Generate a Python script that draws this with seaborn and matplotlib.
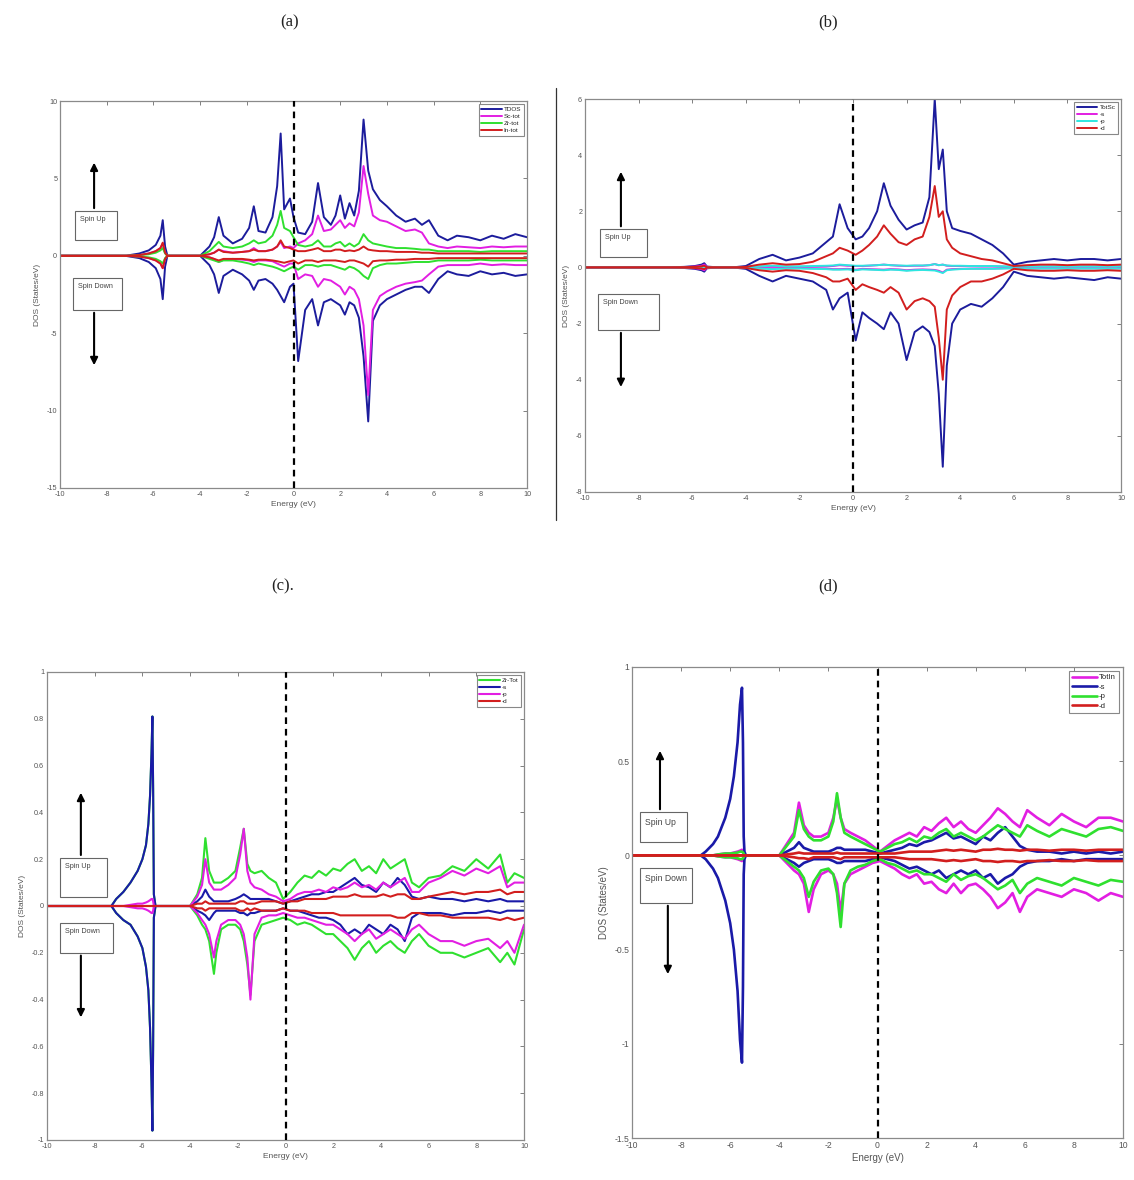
import matplotlib
matplotlib.use('Agg')
import matplotlib.pyplot as plt
import seaborn as sns
from matplotlib.patches import Rectangle
from matplotlib.lines import Line2D

sns.set_style('white')
plt.rcParams['font.family'] = ['Liberation Sans', 'DejaVu Sans']

# ---------------- panel (a) ----------------
a_E = [-10, -7.2, -6.6, -6.2, -5.9, -5.7, -5.6, -5.5, -5.4, -4.0, -3.6, -3.4, -3.2, -3.0, -2.6, -2.2, -1.9, -1.7,
       -1.5, -1.2, -0.9, -0.7, -0.55, -0.4, -0.15, 0.0, 0.2, 0.5, 0.8, 1.05, 1.3, 1.6, 1.8, 2.0, 2.2, 2.4, 2.6, 2.8,
       3.0, 3.2, 3.4, 3.7, 4.0, 4.4, 4.8, 5.2, 5.5, 5.8, 6.2, 6.6, 7.0, 7.5, 8.0, 8.5, 9.0, 9.5, 10]
a_tdos_up = [0, 0, 0.15, 0.35, 0.7, 1.3, 2.3, 0.6, 0, 0, 0.6, 1.2, 2.5, 1.3, 0.8, 1.1, 1.8, 3.2, 1.6, 1.5, 2.5, 4.5,
             7.9, 3.0, 3.7, 2.5, 1.5, 1.4, 2.2, 4.7, 2.5, 2.0, 2.6, 3.9, 2.4, 3.4, 2.6, 4.2, 8.8, 5.5, 4.3, 3.6, 3.2,
             2.6, 2.2, 2.4, 2.0, 2.3, 1.3, 1.0, 1.3, 1.2, 1.0, 1.3, 1.1, 1.4, 1.2]
a_sc_up = [0, 0, 0.05, 0.15, 0.3, 0.5, 0.8, 0.2, 0,
           0, 0.1, 0.2, 0.4, 0.3, 0.2, 0.25, 0.3, 0.5, 0.3, 0.3, 0.4, 0.6, 0.9, 0.5, 0.6,
           0.5, 0.8, 1.0, 1.4, 2.6, 1.6, 1.7, 2.0, 2.3, 1.8, 2.1, 1.9, 2.8,
           5.8, 4.0, 2.6, 2.3, 2.2, 1.9, 1.6, 1.7, 1.5, 0.8, 0.6, 0.5, 0.6, 0.55, 0.5, 0.6, 0.55, 0.6, 0.6]
a_zr_up = [0, 0, 0.05, 0.1, 0.2, 0.35, 0.5, 0.15, 0,
           0, 0.3, 0.6, 0.9, 0.6, 0.5, 0.6, 0.8, 1.0, 0.8, 0.9, 1.3, 2.0, 2.9, 1.8, 1.6,
           1.2, 0.7, 0.6, 0.7, 1.0, 0.6, 0.6, 0.8, 0.9, 0.6, 0.8, 0.6, 0.8,
           1.4, 1.0, 0.8, 0.7, 0.6, 0.5, 0.5, 0.45, 0.4, 0.4, 0.3, 0.3, 0.3, 0.3, 0.25, 0.3, 0.3, 0.3, 0.3]
a_in_up = [0, 0, 0.05, 0.15, 0.3, 0.5, 0.85, 0.2, 0,
           0, 0.1, 0.2, 0.4, 0.25, 0.2, 0.25, 0.3, 0.4, 0.3, 0.3, 0.4, 0.6, 1.0, 0.6, 0.5,
           0.4, 0.3, 0.3, 0.4, 0.5, 0.3, 0.3, 0.4, 0.4, 0.3, 0.35, 0.3, 0.4,
           0.6, 0.4, 0.35, 0.3, 0.3, 0.25, 0.25, 0.25, 0.2, 0.2, 0.15, 0.15, 0.15, 0.15, 0.15, 0.15, 0.15, 0.15, 0.15]
a_tdos_dn = [0, 0, -0.15, -0.4, -0.8, -1.5, -2.8, -0.7, 0,
             0, -0.6, -1.2, -2.4, -1.3, -0.9, -1.2, -1.6, -2.2, -1.6, -1.5, -1.8, -2.2, -2.6, -3.0, -2.0,
             -1.8, -6.8, -3.5, -2.8, -4.5, -3.0, -2.8, -3.0, -3.2, -3.8, -3.0, -3.2, -4.0,
             -6.5, -10.7, -4.2, -3.2, -2.8, -2.5, -2.2, -2.0, -2.0, -2.4, -1.5, -1.0, -1.2, -1.3, -1.0, -1.2, -1.1, -1.3, -1.2]
a_sc_dn = [0, 0, -0.05, -0.15, -0.3, -0.5, -0.8, -0.2, 0,
           0, -0.1, -0.2, -0.4, -0.25, -0.2, -0.25, -0.3, -0.4, -0.3, -0.3, -0.35, -0.5, -0.6, -0.7, -0.5,
           -0.5, -1.5, -1.2, -1.3, -2.0, -1.5, -1.6, -1.8, -2.0, -2.5, -2.0, -2.2, -2.8,
           -4.5, -9.0, -3.5, -2.6, -2.3, -2.0, -1.8, -1.7, -1.6, -1.2, -0.7, -0.6, -0.6, -0.6, -0.5, -0.6, -0.55, -0.6, -0.6]
a_zr_dn = [0, 0, -0.05, -0.1, -0.2, -0.35, -0.5, -0.15, 0,
           0, -0.2, -0.3, -0.4, -0.3, -0.3, -0.4, -0.5, -0.6, -0.5, -0.6, -0.7, -0.8, -0.9, -1.0, -0.8,
           -0.7, -0.9, -0.6, -0.6, -0.7, -0.6, -0.6, -0.7, -0.8, -0.9, -0.7, -0.8, -1.0,
           -1.3, -1.5, -0.8, -0.6, -0.5, -0.5, -0.45, -0.4, -0.4, -0.4, -0.3, -0.3, -0.3, -0.3, -0.25, -0.3, -0.3, -0.3, -0.3]
a_in_dn = [0, 0, -0.05, -0.15, -0.3, -0.5, -0.8, -0.2, 0,
           0, -0.1, -0.2, -0.3, -0.2, -0.2, -0.2, -0.25, -0.3, -0.25, -0.25, -0.3, -0.35, -0.4, -0.45, -0.35,
           -0.3, -0.5, -0.3, -0.3, -0.4, -0.3, -0.3, -0.3, -0.35, -0.4, -0.3, -0.3, -0.4,
           -0.5, -0.7, -0.35, -0.3, -0.3, -0.25, -0.25, -0.2, -0.2, -0.2, -0.15, -0.15, -0.15, -0.15, -0.15, -0.15, -0.15, -0.15, -0.15]

# ---------------- panel (b) ----------------
b_E = [-10, -7.0, -6.3, -5.9, -5.65, -5.55, -5.45, -5.0, -4.5, -4.0, -3.5, -3.0, -2.5, -2.0, -1.5, -1.0, -0.75, -0.5,
       -0.2, 0.1, 0.35, 0.6, 0.9, 1.15, 1.4, 1.7, 2.0, 2.3, 2.6, 2.85, 3.05, 3.2, 3.35, 3.5, 3.7, 4.0, 4.4, 4.8, 5.2,
       5.6, 6.0, 6.5, 7.0, 7.5, 8.0, 8.5, 9.0, 9.5, 10]
b_tot_up = [0, 0, 0.02, 0.05, 0.1, 0.15, 0.03, 0, 0,
            0.05, 0.3, 0.45, 0.25, 0.35, 0.5, 0.9, 1.1, 2.25, 1.4,
            1.0, 1.1, 1.4, 2.0, 3.0, 2.2, 1.7, 1.35, 1.5, 1.6, 2.5,
            6.0, 3.5, 4.2, 2.0, 1.4, 1.3, 1.2, 1.0, 0.8, 0.5, 0.1,
            0.2, 0.25, 0.3, 0.25, 0.3, 0.3, 0.25, 0.3]
b_s_up = [0, 0, 0.01, 0.03, 0.06, 0.1, 0.02, 0, 0,
          0.01, 0.02, 0.03, 0.02, 0.02, 0.03, 0.04, 0.05, 0.08, 0.06,
          0.05, 0.05, 0.06, 0.08, 0.1, 0.08, 0.06, 0.05, 0.06, 0.06, 0.08,
          0.12, 0.08, 0.1, 0.06, 0.05, 0.05, 0.05, 0.04, 0.04, 0.03, 0.02,
          0.03, 0.03, 0.03, 0.03, 0.03, 0.03, 0.03, 0.03]
b_p_up = [0, 0, 0.0, 0.01, 0.02, 0.03, 0.01, 0, 0,
          0.01, 0.04, 0.06, 0.04, 0.04, 0.05, 0.06, 0.07, 0.1, 0.08,
          0.06, 0.06, 0.07, 0.08, 0.1, 0.08, 0.07, 0.06, 0.07, 0.07, 0.08,
          0.12, 0.08, 0.1, 0.07, 0.06, 0.06, 0.05, 0.05, 0.05, 0.04, 0.03,
          0.04, 0.04, 0.04, 0.04, 0.04, 0.04, 0.04, 0.04]
b_d_up = [0, 0, 0.01, 0.02, 0.04, 0.06, 0.01, 0, 0,
          0.02, 0.1, 0.15, 0.1, 0.12, 0.2, 0.4, 0.5, 0.7, 0.6,
          0.45, 0.6, 0.8, 1.1, 1.5, 1.2, 0.9, 0.8, 1.0, 1.1, 1.8,
          2.9, 1.8, 2.0, 1.0, 0.7, 0.5, 0.4, 0.3, 0.25, 0.15, 0.05,
          0.08, 0.1, 0.1, 0.08, 0.1, 0.1, 0.08, 0.1]
b_tot_dn = [0, 0, -0.02, -0.05, -0.1, -0.15, -0.03, 0, 0,
            -0.05, -0.3, -0.5, -0.3, -0.4, -0.5, -0.8, -1.5, -1.1, -0.9,
            -2.6, -1.6, -1.8, -2.0, -2.2, -1.6, -2.0, -3.3, -2.3, -2.1, -2.3,
            -2.8, -4.5, -7.1, -3.5, -2.0, -1.5, -1.3, -1.4, -1.1, -0.7, -0.15,
            -0.3, -0.35, -0.4, -0.35, -0.4, -0.45, -0.35, -0.4]
b_s_dn = [0, 0, -0.01, -0.03, -0.06, -0.1, -0.02, 0, 0,
          -0.01, -0.02, -0.03, -0.02, -0.02, -0.03, -0.04, -0.06, -0.06, -0.05,
          -0.08, -0.05, -0.06, -0.07, -0.08, -0.06, -0.07, -0.1, -0.08, -0.07, -0.08,
          -0.09, -0.12, -0.18, -0.08, -0.06, -0.05, -0.04, -0.04, -0.04, -0.03, -0.02,
          -0.03, -0.03, -0.03, -0.03, -0.03, -0.03, -0.03, -0.03]
b_p_dn = [0, 0, 0, -0.01, -0.02, -0.03, -0.01, 0, 0,
          -0.01, -0.04, -0.06, -0.04, -0.04, -0.05, -0.06, -0.08, -0.08, -0.07,
          -0.1, -0.07, -0.08, -0.09, -0.1, -0.08, -0.09, -0.12, -0.1, -0.09, -0.1,
          -0.11, -0.15, -0.2, -0.1, -0.08, -0.06, -0.05, -0.05, -0.05, -0.04, -0.03,
          -0.04, -0.04, -0.04, -0.04, -0.04, -0.04, -0.04, -0.04]
b_d_dn = [0, 0, -0.01, -0.02, -0.04, -0.06, -0.01, 0, 0,
          -0.02, -0.1, -0.15, -0.1, -0.12, -0.2, -0.35, -0.5, -0.5, -0.4,
          -0.8, -0.6, -0.7, -0.8, -0.9, -0.7, -0.9, -1.5, -1.2, -1.1, -1.2,
          -1.4, -2.5, -4.0, -1.5, -1.0, -0.7, -0.5, -0.5, -0.4, -0.25, -0.05,
          -0.1, -0.12, -0.12, -0.1, -0.12, -0.12, -0.1, -0.12]

# ---------------- panel (c) ----------------
c_E = [-10, -7.3, -7.1, -6.8, -6.5, -6.2, -6.0, -5.85, -5.75, -5.68, -5.62, -5.58, -5.55, -5.52, -5.45,
       -4.0, -3.7, -3.5, -3.36, -3.2, -3.0,
       -2.9, -2.7, -2.4, -2.1, -1.9, -1.75, -1.6, -1.47, -1.3, -1.0, -0.7, -0.4, -0.1, 0.2, 0.5, 0.8, 1.1, 1.4,
       1.7, 2.0, 2.3, 2.6, 2.9, 3.2, 3.5, 3.8, 4.1, 4.4, 4.7, 5.0, 5.3, 5.6, 6.0, 6.5, 7.0, 7.5, 8.0, 8.5, 9.0,
       9.3, 9.6, 10]
c_zr_up = [0, 0, 0.03, 0.06, 0.1, 0.15, 0.2, 0.26, 0.35, 0.47, 0.65, 0.81, 0.5, 0.05, 0,
           0, 0.05, 0.12, 0.29, 0.15, 0.1, 0.1, 0.1, 0.12, 0.15, 0.25, 0.33, 0.18, 0.15, 0.14,
           0.15, 0.12, 0.1, 0.03, 0.06, 0.1, 0.13, 0.12, 0.15, 0.13, 0.16, 0.15, 0.18, 0.2,
           0.15, 0.17, 0.14, 0.2, 0.16, 0.18, 0.2, 0.1, 0.08, 0.12, 0.13, 0.17, 0.15, 0.2, 0.16, 0.22, 0.1, 0.14, 0.12]
c_s_up = [0, 0, 0.03, 0.06, 0.1, 0.15, 0.2, 0.26, 0.35, 0.47, 0.65, 0.81, 0.5, 0.05, 0,
          0, 0.02, 0.04, 0.07, 0.04, 0.02, 0.02, 0.02, 0.02, 0.03, 0.04, 0.05, 0.04, 0.03, 0.03,
          0.03, 0.03, 0.02, 0.01, 0.02, 0.03, 0.04, 0.05, 0.05, 0.06, 0.06, 0.08, 0.1, 0.12,
          0.09, 0.08, 0.06, 0.1, 0.08, 0.12, 0.09, 0.04, 0.03, 0.04, 0.03, 0.03, 0.02, 0.03, 0.02, 0.03, 0.02, 0.02, 0.02]
c_p_up = [0, 0, 0, 0, 0.005, 0.01, 0.01, 0.015, 0.02, 0.025, 0.03, 0.03, 0.02, 0, 0,
          0, 0.04, 0.09, 0.2, 0.1, 0.07, 0.07, 0.07, 0.09, 0.12, 0.22, 0.33, 0.15, 0.1, 0.08,
          0.07, 0.05, 0.04, 0.02, 0.03, 0.05, 0.06, 0.06, 0.07, 0.06, 0.08, 0.07, 0.08, 0.1,
          0.08, 0.09, 0.07, 0.1, 0.08, 0.1, 0.12, 0.06, 0.06, 0.1, 0.12, 0.15, 0.13, 0.16, 0.14, 0.17, 0.08, 0.1, 0.1]
c_d_up = [0, 0, 0, 0, 0, 0, 0, 0, 0, 0, 0, 0, 0, 0, 0,
          0, 0.01, 0.01, 0.02, 0.01, 0.01, 0.01, 0.01, 0.01, 0.01, 0.02, 0.02, 0.01, 0.01, 0.01,
          0.02, 0.02, 0.02, 0.01, 0.02, 0.02, 0.03, 0.03, 0.03, 0.03, 0.04, 0.04, 0.04, 0.05,
          0.04, 0.04, 0.04, 0.05, 0.04, 0.05, 0.05, 0.03, 0.03, 0.04, 0.05, 0.06, 0.05, 0.06, 0.06, 0.07, 0.05, 0.06, 0.06]
c_zr_dn = [0, 0, -0.03, -0.06, -0.08, -0.13, -0.18, -0.26, -0.36, -0.52, -0.75, -0.96, -0.6, -0.05, 0,
           0, -0.04, -0.08, -0.1, -0.15, -0.29, -0.2, -0.1, -0.08, -0.08, -0.1, -0.15, -0.25, -0.38, -0.15,
           -0.08, -0.07, -0.06, -0.05, -0.06, -0.08, -0.07, -0.08, -0.1, -0.12, -0.12, -0.15, -0.18, -0.23,
           -0.18, -0.15, -0.2, -0.17, -0.15, -0.18, -0.2, -0.15, -0.12, -0.17, -0.2, -0.2, -0.22, -0.2, -0.18, -0.24, -0.2, -0.25, -0.1]
c_s_dn = [0, 0, -0.03, -0.06, -0.08, -0.13, -0.18, -0.26, -0.36, -0.52, -0.75, -0.96, -0.6, -0.05, 0,
          0, -0.02, -0.03, -0.04, -0.06, -0.03, -0.02, -0.02, -0.02, -0.02, -0.03, -0.03, -0.04, -0.03, -0.03,
          -0.02, -0.02, -0.02, -0.01, -0.02, -0.02, -0.03, -0.04, -0.05, -0.05, -0.06, -0.08, -0.12, -0.1,
          -0.12, -0.08, -0.1, -0.12, -0.08, -0.1, -0.15, -0.05, -0.03, -0.03, -0.03, -0.04, -0.03, -0.03, -0.02, -0.03, -0.02, -0.02, -0.02]
c_p_dn = [0, 0, 0, 0, -0.005, -0.01, -0.01, -0.015, -0.02, -0.025, -0.03, -0.03, -0.02, 0, 0,
          0, -0.03, -0.06, -0.08, -0.12, -0.22, -0.15, -0.08, -0.06, -0.06, -0.08, -0.12, -0.22, -0.40, -0.12,
          -0.05, -0.04, -0.04, -0.03, -0.04, -0.05, -0.05, -0.06, -0.07, -0.08, -0.08, -0.1, -0.12, -0.15,
          -0.12, -0.1, -0.14, -0.12, -0.1, -0.12, -0.14, -0.1, -0.08, -0.12, -0.15, -0.15, -0.17, -0.15, -0.14, -0.18, -0.15, -0.2, -0.08]
c_d_dn = [0, 0, 0, 0, 0, 0, 0, 0, 0, 0, 0, 0, 0, 0, 0,
          0, -0.01, -0.01, -0.02, -0.01, -0.01, -0.01, -0.01, -0.01, -0.01, -0.02, -0.02, -0.01, -0.02, -0.01,
          -0.02, -0.02, -0.02, -0.01, -0.02, -0.02, -0.02, -0.03, -0.03, -0.03, -0.03, -0.04, -0.04, -0.04,
          -0.04, -0.04, -0.04, -0.04, -0.04, -0.05, -0.05, -0.03, -0.03, -0.04, -0.04, -0.05, -0.05, -0.05, -0.05, -0.06, -0.05, -0.06, -0.05]

# ---------------- panel (d) ----------------
d_E = [-10, -7.2, -7.0, -6.7, -6.5, -6.2, -6.0, -5.85, -5.7, -5.6, -5.52, -5.48, -5.45, -5.42, -5.36,
       -4.0, -3.7, -3.4, -3.2, -3.0, -2.8,
       -2.6, -2.3, -2.0, -1.8, -1.65, -1.5, -1.35, -1.1, -0.8, -0.5, -0.2, 0.1, 0.4, 0.7, 1.0, 1.3, 1.6, 1.9, 2.2,
       2.5, 2.8, 3.1, 3.4, 3.7, 4.0, 4.3, 4.6, 4.9, 5.2, 5.5, 5.8, 6.1, 6.5, 7.0, 7.5, 8.0, 8.5, 9.0, 9.5, 10]
d_in_up = [0, 0, 0, 0, 0.005, 0.01, 0.01, 0.015, 0.02, 0.025, 0.03, 0.02, 0.01, 0, 0,
           0, 0.06, 0.12, 0.28, 0.16, 0.12, 0.1, 0.1, 0.12, 0.2, 0.3, 0.2, 0.14, 0.12, 0.1, 0.08, 0.05,
           0.02, 0.05, 0.08, 0.1, 0.12, 0.1, 0.15, 0.13, 0.17, 0.2, 0.15, 0.18, 0.14,
           0.12, 0.16, 0.2, 0.25, 0.22, 0.18, 0.15, 0.24, 0.2, 0.16, 0.22, 0.18, 0.15, 0.2, 0.2, 0.18]
d_s_up = [0, 0, 0.02, 0.06, 0.1, 0.2, 0.3, 0.42, 0.6, 0.8, 0.89, 0.6, 0.1, 0.02, 0,
          0, 0.02, 0.04, 0.07, 0.04, 0.03, 0.02, 0.02, 0.02, 0.03, 0.04, 0.04, 0.03, 0.03, 0.03, 0.03, 0.02,
          0.01, 0.02, 0.03, 0.04, 0.06, 0.05, 0.07, 0.08, 0.1, 0.12, 0.09, 0.1, 0.08,
          0.06, 0.1, 0.08, 0.12, 0.15, 0.1, 0.05, 0.03, 0.02, 0.02, 0.01, 0.02, 0.01, 0.02, 0.01, 0.02]
d_p_up = [0, 0, 0, 0, 0.005, 0.01, 0.01, 0.012, 0.015, 0.02, 0.02, 0.015, 0.01, 0, 0,
          0, 0.05, 0.1, 0.24, 0.14, 0.1, 0.08, 0.08, 0.1, 0.18, 0.33, 0.2, 0.12, 0.1, 0.08, 0.06, 0.04,
          0.02, 0.04, 0.06, 0.07, 0.09, 0.07, 0.1, 0.09, 0.12, 0.14, 0.1, 0.12, 0.1,
          0.08, 0.1, 0.13, 0.16, 0.14, 0.12, 0.1, 0.16, 0.13, 0.1, 0.14, 0.12, 0.1, 0.14, 0.15, 0.13]
d_d_up = [0, 0, 0, 0, 0, 0, 0, 0, 0, 0, 0, 0, 0, 0, 0,
          0, 0.005, 0.01, 0.015, 0.01, 0.01, 0.01, 0.01, 0.01, 0.01, 0.015, 0.01, 0.01, 0.01, 0.01, 0.01, 0.01,
          0.01, 0.01, 0.01, 0.015, 0.02, 0.02, 0.02, 0.02, 0.025, 0.03, 0.025, 0.03, 0.025,
          0.02, 0.03, 0.03, 0.035, 0.03, 0.03, 0.025, 0.03, 0.03, 0.025, 0.03, 0.03, 0.025, 0.03, 0.03, 0.03]
d_in_dn = [0, 0, 0, 0, -0.005, -0.01, -0.01, -0.015, -0.02, -0.025, -0.03, -0.02, -0.01, 0, 0,
           0, -0.04, -0.08, -0.1, -0.15, -0.3, -0.18, -0.1, -0.08, -0.1, -0.15, -0.3, -0.15, -0.1, -0.08, -0.06, -0.04,
           -0.03, -0.05, -0.07, -0.1, -0.12, -0.1, -0.15, -0.14, -0.18, -0.2, -0.15, -0.2, -0.16,
           -0.15, -0.18, -0.22, -0.28, -0.25, -0.2, -0.3, -0.22, -0.18, -0.2, -0.22, -0.18, -0.2, -0.24, -0.2, -0.22]
d_s_dn = [0, 0, -0.02, -0.07, -0.12, -0.24, -0.36, -0.5, -0.72, -0.98, -1.1, -0.7, -0.1, -0.02, 0,
          0, -0.02, -0.04, -0.06, -0.04, -0.03, -0.02, -0.02, -0.02, -0.03, -0.04, -0.04, -0.03, -0.03, -0.03, -0.03, -0.02,
          -0.01, -0.02, -0.03, -0.05, -0.07, -0.06, -0.08, -0.1, -0.08, -0.12, -0.1, -0.08, -0.1,
          -0.08, -0.12, -0.1, -0.15, -0.12, -0.1, -0.06, -0.04, -0.03, -0.03, -0.02, -0.03, -0.02, -0.02, -0.02, -0.02]
d_p_dn = [0, 0, 0, 0, -0.005, -0.01, -0.01, -0.012, -0.015, -0.02, -0.02, -0.015, -0.01, 0, 0,
          0, -0.03, -0.06, -0.08, -0.12, -0.22, -0.14, -0.08, -0.07, -0.1, -0.2, -0.38, -0.15, -0.08, -0.06, -0.05, -0.03,
          -0.02, -0.04, -0.05, -0.07, -0.09, -0.08, -0.1, -0.1, -0.12, -0.14, -0.1, -0.13, -0.11,
          -0.1, -0.12, -0.15, -0.18, -0.16, -0.13, -0.2, -0.15, -0.12, -0.14, -0.16, -0.12, -0.14, -0.16, -0.13, -0.14]
d_d_dn = [0, 0, 0, 0, 0, 0, 0, 0, 0, 0, 0, 0, 0, 0, 0,
          0, -0.005, -0.01, -0.015, -0.015, -0.02, -0.01, -0.01, -0.01, -0.01, -0.015, -0.02, -0.01, -0.01, -0.01, -0.01, -0.01,
          -0.01, -0.01, -0.01, -0.015, -0.02, -0.02, -0.02, -0.02, -0.025, -0.03, -0.025, -0.03, -0.025,
          -0.02, -0.03, -0.03, -0.035, -0.03, -0.03, -0.035, -0.03, -0.03, -0.025, -0.03, -0.03, -0.025, -0.03, -0.03, -0.03]

x_ticks = [-10, -8, -6, -4, -2, 0, 2, 4, 6, 8, 10]
a_yticks = [-15, -10, -5, 0, 5, 10]
b_yticks = [-8, -6, -4, -2, 0, 2, 4, 6]
c_yticks = [-1, -0.8, -0.6, -0.4, -0.2, 0, 0.2, 0.4, 0.6, 0.8, 1]
c_yticklabels = ['-1', '-0.8', '-0.6', '-0.4', '-0.2', '0', '0.2', '0.4', '0.6', '0.8', '1']
d_yticks = [-1.5, -1, -0.5, 0, 0.5, 1]
d_yticklabels = ['-1.5', '-1', '-0.5', '0', '0.5', '1']

NAVY = '#1c1c9c'
BLUE = '#1a1aa8'
MAG = '#e21ee2'
GRN = '#2fe02f'
RED = '#d21e1e'
CYAN = '#2ee6e0'
GREY = '#6a6a6a'

fig = plt.figure(figsize=(11.34, 11.8), dpi=100)


def panel(rect, E, series, ylim, yticks, yticklabels, lw, fs, su, sd, legfs):
    ax = fig.add_axes(rect)
    handles = []
    for name, color, up, dn in series:
        sns.lineplot(x=E, y=up, color=color, lw=lw, ax=ax, sort=False, estimator=None)
        sns.lineplot(x=E, y=dn, color=color, lw=lw, ax=ax, sort=False, estimator=None)
        handles.append(Line2D([], [], color=color, lw=lw))
    ax.axvline(0, color='black', lw=1.6, ls=(0, (3, 2.2)), zorder=5)
    ax.set_xlim(-10, 10)
    ax.set_ylim(*ylim)
    ax.set_xticks(x_ticks)
    ax.set_xticklabels([str(t) for t in x_ticks])
    ax.set_yticks(yticks)
    ax.set_yticklabels(yticklabels)
    ax.tick_params(direction='in', length=3, width=0.6, colors=GREY, labelsize=fs,
                   top=True, right=True, labelcolor='#555555', pad=2)
    for sp in ax.spines.values():
        sp.set_color('#8a8a8a')
        sp.set_linewidth(0.9)
    ax.set_xlabel('Energy (eV)', fontsize=fs + 0.8, color='#555555', labelpad=2)
    ax.set_ylabel('DOS (States/eV)', fontsize=fs + 0.8, color='#555555', labelpad=4)
    leg = ax.legend(handles=handles, labels=[s[0] for s in series], loc='upper right',
                    fontsize=legfs, frameon=True, fancybox=False, edgecolor='#888888',
                    framealpha=1, handlelength=3.2, handletextpad=0.3, borderpad=0.4,
                    labelspacing=0.25, borderaxespad=0.5)
    leg.get_frame().set_linewidth(0.8)
    for box, txt in ((su, 'Spin Up'), (sd, 'Spin Down')):
        x0, x1, y0, y1, ax_x, tip = box
        ax.add_patch(Rectangle((x0, y0), x1 - x0, y1 - y0, transform=ax.transAxes,
                               facecolor='white', edgecolor='#666666', lw=0.8, zorder=6))
        ax.text(x0 + 0.01, y1 - 0.012, txt, transform=ax.transAxes, fontsize=fs, va='top',
                ha='left', color='#444444', zorder=7)
        base = y1 if tip > y1 else y0
        ax.annotate('', xy=(ax_x, tip), xytext=(ax_x, base), xycoords='axes fraction',
                    arrowprops=dict(arrowstyle='-|>', color='black', lw=1.5, mutation_scale=11),
                    zorder=7)
    return ax


panel([60 / 1134, 1 - 488 / 1180, 467 / 1134, 387 / 1180], a_E,
      [('TDOS', NAVY, a_tdos_up, a_tdos_dn), ('Sc-tot', MAG, a_sc_up, a_sc_dn),
       ('Zr-tot', GRN, a_zr_up, a_zr_dn), ('In-tot', RED, a_in_up, a_in_dn)],
      (-15, 10), a_yticks, [str(t) for t in a_yticks], 1.4, 5.2,
      (0.032, 0.122, 0.641, 0.716, 0.073, 0.848), (0.028, 0.133, 0.46, 0.543, 0.073, 0.31), 4.6)

panel([585 / 1134, 1 - 492 / 1180, 536 / 1134, 393 / 1180], b_E,
      [('TotSc', NAVY, b_tot_up, b_tot_dn), ('-s', MAG, b_s_up, b_s_dn),
       ('-p', CYAN, b_p_up, b_p_dn), ('-d', RED, b_d_up, b_d_dn)],
      (-8, 6), b_yticks, [str(t) for t in b_yticks], 1.4, 5.2,
      (0.028, 0.116, 0.598, 0.669, 0.067, 0.822), (0.024, 0.138, 0.412, 0.504, 0.067, 0.26), 4.6)

panel([47 / 1134, 1 - 1140 / 1180, 477 / 1134, 468 / 1180], c_E,
      [('Zr-Tot', GRN, c_zr_up, c_zr_dn), ('-s', BLUE, c_s_up, c_s_dn),
       ('-p', MAG, c_p_up, c_p_dn), ('-d', RED, c_d_up, c_d_dn)],
      (-1, 1), c_yticks, c_yticklabels, 1.5, 5.2,
      (0.027, 0.126, 0.519, 0.603, 0.071, 0.748), (0.027, 0.138, 0.40, 0.464, 0.071, 0.256), 4.6)

panel([632 / 1134, 1 - 1138 / 1180, 491 / 1134, 471 / 1180], d_E,
      [('TotIn', MAG, d_in_up, d_in_dn), ('-s', BLUE, d_s_up, d_s_dn),
       ('-p', GRN, d_p_up, d_p_dn), ('-d', RED, d_d_up, d_d_dn)],
      (-1.5, 1), d_yticks, d_yticklabels, 1.9, 6.2,
      (0.016, 0.112, 0.628, 0.692, 0.057, 0.828), (0.016, 0.122, 0.499, 0.573, 0.073, 0.342), 5.6)

for txt, x, y in (('(a)', 290, 22), ('(b)', 828, 22), ('(c).', 283, 586), ('(d)', 828, 586)):
    fig.text(x / 1134, 1 - y / 1180, txt, fontsize=12, family=['Liberation Serif', 'DejaVu Serif'],
             ha='center', va='center', color='#222222')

fig.add_artist(Line2D([556 / 1134, 556 / 1134], [1 - 88 / 1180, 1 - 520 / 1180],
                      color='#333333', lw=0.9, transform=fig.transFigure))

fig.savefig('out.png', dpi=100, facecolor='white')
